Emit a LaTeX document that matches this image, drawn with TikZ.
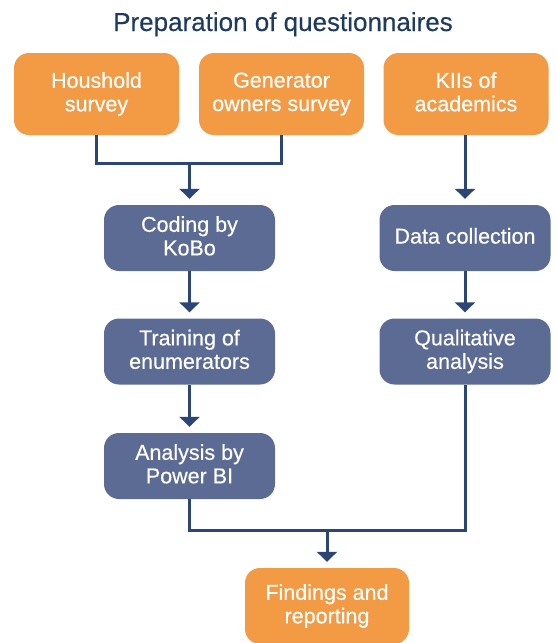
\documentclass[tikz,border=0pt]{standalone}
\usepackage{fontspec}
\setmainfont{Liberation Sans}
\newfontfamily\boxfont[FakeBold=0.35]{Liberation Sans}
\usetikzlibrary{arrows.meta}
\definecolor{boxorange}{HTML}{F39A44}
\definecolor{boxblue}{HTML}{5B6B93}
\definecolor{linenavy}{HTML}{2B4674}
\definecolor{titlenavy}{HTML}{1E3A5F}
\tikzset{
  box/.style={rounded corners=15pt, text=white, align=center, inner sep=0pt,
    font=\boxfont\fontsize{21.5}{23.5}\selectfont, execute at end node={\vphantom{y}}},
  obox/.style={box, fill=boxorange, minimum width=165pt, minimum height=82pt},
  bbox/.style={box, fill=boxblue, minimum width=171pt, minimum height=66pt},
  conn/.style={draw=linenavy, line width=3pt},
  arr/.style={conn, -{Triangle[width=20pt,length=10pt]}, shorten >=6pt},
}
\begin{document}
\begin{tikzpicture}[x=1pt,y=-1pt]
\useasboundingbox (0,0) rectangle (555,643);
\node[anchor=base, text=titlenavy, font=\boxfont\fontsize{26}{30}\selectfont] (title) at (283,31) {Preparation of questionnaires};
\node[obox] (H) at (96.5,94) {Houshold\\survey};
\node[obox] (G) at (281.5,94) {Generator\\owners survey};
\node[obox] (K) at (466,94) {KIIs of\\academics};
\node[bbox] (C) at (189.5,238) {Coding by\\KoBo};
\node[bbox] (T) at (189.5,351.5) {Training of\\enumerators};
\node[bbox] (A) at (189.5,466) {Analysis by\\Power BI};
\node[bbox] (D) at (465,238) {Data collection};
\node[bbox] (Q) at (465,351.5) {Qualitative\\analysis};
\node[obox, minimum width=164pt, minimum height=76pt] (F) at (327,606) {Findings and\\reporting};
\coordinate (j1) at (189.5,163);
\coordinate (j2) at (327,530);
\draw[conn] (H.south) |- (j1) -| (G.south);
\draw[arr] (j1) -- (C.north);
\draw[arr] (C.south) -- (T.north);
\draw[arr] (T.south) -- (A.north);
\draw[arr] (K.south -| D.north) -- (D.north);
\draw[arr] (D.south) -- (Q.north);
\draw[conn] (A.south) |- (j2) -| (Q.south);
\draw[arr] (j2) -- (F.north);
\end{tikzpicture}
\end{document}
